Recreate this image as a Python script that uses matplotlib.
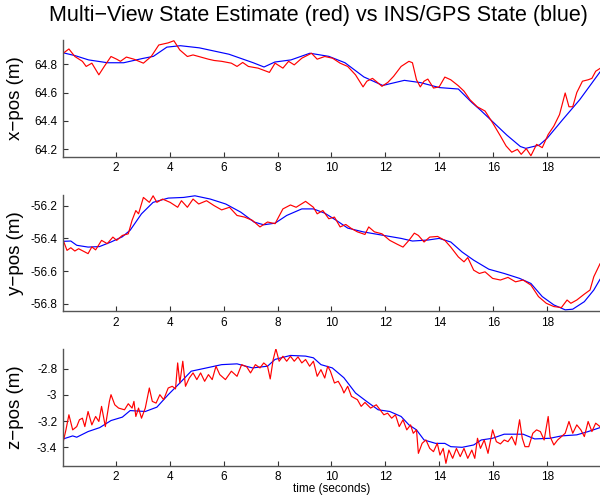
import matplotlib
matplotlib.use("Agg")
import matplotlib.pyplot as plt

plt.rcParams['font.family'] = ['Liberation Sans', 'DejaVu Sans']
plt.rcParams['axes.unicode_minus'] = False

title = "Multi\u2212View State Estimate (red) vs INS/GPS State (blue)"
ylabels = ["x\u2212pos (m)", "y\u2212pos (m)", "z\u2212pos (m)"]
xlabel = "time (seconds)"
xticks = [2, 4, 6, 8, 10, 12, 14, 16, 18]

# x position, red = multi-view estimate, blue = INS/GPS
x_red_t = [0.06, 0.27, 0.49, 0.77, 0.91, 1.12, 1.38, 1.58, 1.83, 2.04, 2.18, 2.4, 2.68, 3.03,
           3.32, 3.6, 3.95, 4.16, 4.38, 4.66, 4.87, 5.08, 5.44, 5.65, 5.93, 6.29, 6.5, 6.71,
           6.92, 7.28, 7.7, 7.91, 8.2, 8.41, 8.62, 8.9, 9.26, 9.47, 9.75, 10.04, 10.32, 10.6,
           10.89, 11.17, 11.31, 11.52, 11.73, 11.87, 12.09, 12.3, 12.58, 12.87, 13.0, 13.15,
           13.29, 13.43, 13.57, 13.78, 13.99, 14.2, 14.42, 14.7, 14.91, 15.13, 15.4, 15.69,
           15.97, 16.26, 16.47, 16.68, 16.89, 17.03, 17.22, 17.39, 17.6, 17.81, 18.03, 18.24,
           18.45, 18.66, 18.8, 18.94, 19.09, 19.3, 19.51, 19.65, 19.79, 19.95]
x_red = [64.877, 64.907, 64.854, 64.82, 64.784, 64.807, 64.725, 64.784, 64.854, 64.835,
         64.82, 64.85, 64.835, 64.807, 64.854, 64.935, 64.95, 64.965, 64.9, 64.854, 64.865,
         64.854, 64.835, 64.826, 64.82, 64.807, 64.784, 64.812, 64.784, 64.772, 64.742,
         64.807, 64.772, 64.82, 64.795, 64.842, 64.877, 64.835, 64.854, 64.842, 64.807,
         64.784, 64.725, 64.64, 64.68, 64.7, 64.667, 64.644, 64.672, 64.714, 64.784, 64.82,
         64.81, 64.69, 64.64, 64.68, 64.695, 64.632, 64.64, 64.709, 64.69, 64.648, 64.61,
         64.55, 64.5, 64.47, 64.387, 64.294, 64.224, 64.18, 64.2, 64.165, 64.205, 64.155,
         64.235, 64.212, 64.305, 64.364, 64.445, 64.597, 64.5, 64.5, 64.6, 64.68, 64.69,
         64.7, 64.75, 64.77]
x_blue_t = [0.06, 0.5, 1.0, 1.7, 2.3, 3.0, 3.4, 3.9, 4.4, 5.1, 6.2, 7.1, 7.5, 7.9, 8.5, 9.2,
            9.9, 10.5, 11.2, 11.9, 12.7, 13.3, 14.0, 14.7, 15.2, 15.5, 16.0, 16.5, 17.0, 17.2,
            17.7, 18.0, 18.57, 19.2, 19.95]
x_blue = [64.88, 64.86, 64.83, 64.81, 64.81, 64.84, 64.855, 64.92, 64.93, 64.915, 64.87,
          64.81, 64.78, 64.815, 64.83, 64.877, 64.855, 64.81, 64.71, 64.65, 64.686, 64.67,
          64.635, 64.625, 64.53, 64.48, 64.39, 64.3, 64.22, 64.207, 64.23, 64.28, 64.41,
          64.55, 64.745]

# y position
y_red_t = [0.06, 0.2, 0.34, 0.49, 0.63, 0.98, 1.12, 1.26, 1.48, 1.69, 1.9, 2.04, 2.25, 2.47,
           2.61, 2.75, 2.85, 3.03, 3.25, 3.39, 3.53, 3.74, 4.02, 4.3, 4.44, 4.66, 4.87, 5.08,
           5.37, 5.65, 5.93, 6.22, 6.5, 6.78, 7.07, 7.35, 7.63, 7.91, 8.2, 8.48, 8.69, 9.04,
           9.33, 9.47, 9.68, 9.9, 10.11, 10.32, 10.53, 10.74, 10.96, 11.24, 11.38, 11.59,
           11.87, 12.16, 12.44, 12.65, 12.87, 13.07, 13.22, 13.43, 13.64, 13.93, 14.2, 14.42,
           14.7, 14.91, 15.05, 15.27, 15.48, 15.69, 15.97, 16.26, 16.54, 16.82, 17.1, 17.39,
           17.67, 17.96, 18.24, 18.52, 18.73, 18.87, 19.09, 19.37, 19.58, 19.72, 19.95]
y_red = [-56.412, -56.473, -56.457, -56.477, -56.463, -56.493, -56.452, -56.47, -56.412,
         -56.432, -56.392, -56.412, -56.382, -56.372, -56.29, -56.23, -56.25, -56.15, -56.18,
         -56.14, -56.18, -56.16, -56.18, -56.21, -56.17, -56.21, -56.16, -56.19, -56.17,
         -56.2, -56.226, -56.21, -56.26, -56.27, -56.29, -56.33, -56.3, -56.31, -56.22,
         -56.196, -56.21, -56.174, -56.21, -56.25, -56.23, -56.28, -56.27, -56.33, -56.315,
         -56.34, -56.36, -56.376, -56.33, -56.36, -56.372, -56.412, -56.436, -56.453,
         -56.412, -56.368, -56.382, -56.422, -56.392, -56.388, -56.412, -56.453, -56.513,
         -56.543, -56.517, -56.594, -56.614, -56.604, -56.644, -56.654, -56.638, -56.665,
         -56.654, -56.685, -56.755, -56.796, -56.816, -56.822, -56.776, -56.796, -56.776,
         -56.74, -56.715, -56.634, -56.555]
y_blue_t = [0.06, 0.34, 0.56, 0.98, 1.4, 1.83, 2.25, 2.54, 2.96, 3.39, 3.95, 4.52, 4.94, 5.51,
            6.08, 6.64, 7.13, 7.49, 7.91, 8.34, 8.9, 9.33, 9.75, 10.18, 10.6, 11.17, 11.87,
            12.58, 13.0, 13.57, 13.99, 14.42, 14.84, 15.27, 15.83, 16.4, 16.97, 17.39, 17.81,
            18.24, 18.66, 18.94, 19.37, 19.72, 19.95]
y_blue = [-56.418, -56.416, -56.442, -56.453, -56.45, -56.422, -56.39, -56.35, -56.25, -56.18,
          -56.154, -56.15, -56.14, -56.16, -56.19, -56.24, -56.3, -56.317, -56.307, -56.26,
          -56.22, -56.22, -56.246, -56.29, -56.337, -56.36, -56.38, -56.4, -56.416, -56.41,
          -56.4, -56.422, -56.483, -56.533, -56.588, -56.614, -56.644, -56.675, -56.755,
          -56.806, -56.836, -56.832, -56.786, -56.715, -56.65]

# z position
z_red_t = [0.06, 0.16, 0.27, 0.41, 0.56, 0.66, 0.77, 0.86, 0.98, 1.12, 1.26, 1.38, 1.48, 1.62,
           1.77, 1.83, 1.97, 2.11, 2.33, 2.47, 2.61, 2.68, 2.75, 2.85, 2.96, 3.1, 3.25, 3.36,
           3.5, 3.64, 3.78, 3.95, 4.1, 4.22, 4.3, 4.38, 4.49, 4.59, 4.73, 4.87, 5.01, 5.15,
           5.3, 5.44, 5.58, 5.72, 5.86, 6.07, 6.29, 6.5, 6.67, 6.86, 7.0, 7.18, 7.35, 7.49,
           7.63, 7.73, 7.84, 7.94, 8.06, 8.2, 8.34, 8.48, 8.62, 8.76, 8.9, 9.04, 9.19, 9.33,
           9.47, 9.61, 9.75, 9.86, 9.96, 10.11, 10.25, 10.39, 10.46, 10.6, 10.74, 10.96, 11.1,
           11.24, 11.45, 11.66, 11.8, 11.94, 12.08, 12.23, 12.37, 12.51, 12.65, 12.79, 12.93,
           13.03, 13.15, 13.22, 13.36, 13.5, 13.64, 13.78, 13.92, 14.02, 14.14, 14.24, 14.35,
           14.49, 14.63, 14.77, 14.91, 15.05, 15.2, 15.31, 15.41, 15.52, 15.66, 15.8, 15.97,
           16.11, 16.26, 16.4, 16.54, 16.68, 16.82, 16.97, 17.07, 17.17, 17.31, 17.46, 17.6,
           17.74, 17.88, 18.03, 18.1, 18.24, 18.38, 18.52, 18.66, 18.8, 18.94, 19.09, 19.24,
           19.37, 19.51, 19.65, 19.79, 19.95]
z_red = [-3.357, -3.267, -3.152, -3.267, -3.242, -3.19, -3.178, -3.242, -3.127, -3.229,
         -3.165, -3.203, -3.088, -3.242, -3.05, -2.999, -3.076, -3.101, -3.114, -3.068,
         -3.101, -3.05, -3.165, -3.101, -3.178, -3.101, -2.948, -3.05, -3.063, -2.999,
         -3.037, -2.948, -2.935, -2.955, -2.757, -2.91, -2.744, -2.935, -2.872, -2.833,
         -2.884, -2.833, -2.897, -2.846, -2.884, -2.782, -2.846, -2.884, -2.82, -2.859,
         -2.77, -2.787, -2.833, -2.77, -2.795, -2.757, -2.782, -2.879, -2.731, -2.649,
         -2.744, -2.706, -2.744, -2.706, -2.744, -2.711, -2.757, -2.731, -2.782, -2.744,
         -2.859, -2.808, -2.872, -2.782, -2.82, -2.91, -2.897, -2.948, -2.986, -2.935,
         -3.012, -3.037, -3.088, -3.058, -3.101, -3.076, -3.114, -3.152, -3.14, -3.178,
         -3.152, -3.242, -3.19, -3.267, -3.229, -3.293, -3.267, -3.446, -3.369, -3.344,
         -3.408, -3.433, -3.369, -3.459, -3.408, -3.522, -3.421, -3.484, -3.408, -3.471,
         -3.408, -3.484, -3.421, -3.484, -3.331, -3.408, -3.344, -3.446, -3.267, -3.357,
         -3.374, -3.344, -3.357, -3.318, -3.382, -3.19, -3.331, -3.395, -3.395, -3.293,
         -3.267, -3.28, -3.344, -3.165, -3.318, -3.382, -3.344, -3.318, -3.293, -3.203,
         -3.293, -3.229, -3.267, -3.318, -3.203, -3.28, -3.216, -3.242]
z_blue_t = [0.06, 0.41, 0.56, 0.98, 1.41, 1.83, 2.25, 2.54, 3.1, 3.53, 3.95, 4.38, 4.8, 5.37,
            5.93, 6.5, 7.07, 7.63, 7.91, 8.48, 9.04, 9.33, 9.61, 10.03, 10.46, 10.89, 11.3,
            11.73, 12.16, 12.58, 12.87, 13.15, 13.43, 13.86, 14.2, 14.42, 14.84, 15.27, 15.55,
            15.97, 16.4, 17.1, 17.53, 18.1, 18.52, 19.09, 19.51, 19.95]
z_blue = [-3.336, -3.313, -3.323, -3.28, -3.25, -3.196, -3.17, -3.12, -3.127, -3.094, -2.999,
          -2.91, -2.82, -2.795, -2.77, -2.764, -2.795, -2.782, -2.73, -2.7, -2.705, -2.718,
          -2.77, -2.795, -2.87, -2.986, -3.05, -3.114, -3.127, -3.165, -3.229, -3.267, -3.344,
          -3.37, -3.37, -3.395, -3.4, -3.382, -3.344, -3.331, -3.3, -3.3, -3.336, -3.331,
          -3.313, -3.305, -3.28, -3.25]

panels = [
    (x_red_t, x_red, x_blue_t, x_blue, (64.148, 64.97), [64.2, 64.4, 64.6, 64.8], ["64.2", "64.4", "64.6", "64.8"]),
    (y_red_t, y_red, y_blue_t, y_blue, (-56.843, -56.135), [-56.8, -56.6, -56.4, -56.2], ["-56.8", "-56.6", "-56.4", "-56.2"]),
    (z_red_t, z_red, z_blue_t, z_blue, (-3.54, -2.653), [-3.4, -3.2, -3.0, -2.8], ["-3.4", "-3.2", "-3", "-2.8"]),
]

fig = plt.figure(figsize=(6.0, 4.96), dpi=100)
rects = [[0.1045, 0.684, 0.8955, 0.2353],
         [0.1045, 0.373, 0.8955, 0.2339],
         [0.1045, 0.0611, 0.8955, 0.2347]]

for i, (rt, rv, bt, bv, ylim, yt, ytl) in enumerate(panels):
    ax = fig.add_axes(rects[i])
    ax.plot(bt, bv, color='#0000ff', lw=0.85)
    ax.plot(rt, rv, color='#ff0000', lw=0.85)
    ax.set_xlim(0.04, 19.95)
    ax.set_ylim(*ylim)
    ax.set_xticks(xticks)
    ax.set_yticks(yt)
    ax.set_yticklabels(ytl)
    ax.spines['top'].set_visible(False)
    ax.spines['right'].set_visible(False)
    for s in ('left', 'bottom'):
        ax.spines[s].set_color('#555555')
        ax.spines[s].set_linewidth(1.0)
    ax.tick_params(direction='in', length=3.5, width=0.8, color='#333333',
                   labelsize=8.5, pad=4)
    ax.set_ylabel(ylabels[i], fontsize=13.5)
    ax.yaxis.set_label_coords(-0.072, 0.5)
    ax.patch.set_alpha(0)

fig.axes[2].set_xlabel(xlabel, fontsize=8.5, labelpad=0)
fig.text(0.53, 0.968, title, ha='center', va='center', fontsize=15.5)

fig.savefig("out.png", dpi=100)
